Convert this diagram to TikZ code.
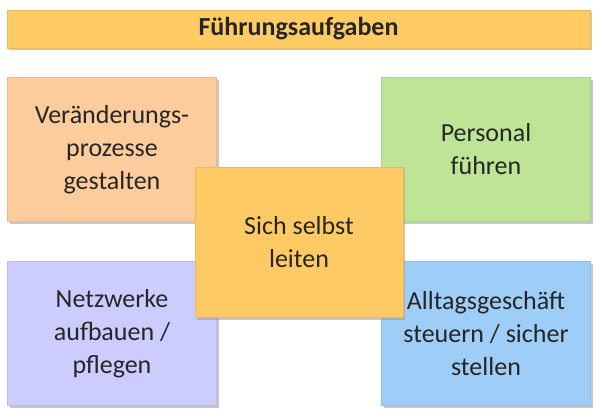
\documentclass[tikz,border=0pt]{standalone}
\usepackage{fontspec}
\setmainfont{Carlito}
\usepackage{xcolor}
\usetikzlibrary{shadows}

\definecolor{titlegold}{HTML}{FFCB64}
\definecolor{peach}{HTML}{FCCC9C}
\definecolor{leafgreen}{HTML}{BEE496}
\definecolor{selfgold}{HTML}{FFCA64}
\definecolor{lavender}{HTML}{CCCCFF}
\definecolor{skyblue}{HTML}{9ECDF8}

\begin{document}
\begin{tikzpicture}[
  x=1pt, y=-1pt,
  task/.style={rectangle, inner sep=0pt, minimum width=209pt, minimum height=144pt,
    align=center, font=\fontsize{26}{33}\selectfont, text=black!85,
    draw=#1!92!black, line width=0.6pt, fill=#1,
    drop shadow={shadow xshift=2pt, shadow yshift=-2.5pt, fill=black!40, opacity=0.55}},
  headbar/.style={task=titlegold, minimum width=583pt, minimum height=38pt,
    font=\fontsize{26}{33}\selectfont\bfseries}
]
\useasboundingbox (0,0) rectangle (600,417);
\node[headbar] (title) at (298.5,29) {Führungsaufgaben};
\node[task=peach]     (change)  at (112,149.5) {Veränderungs-\\prozesse\\gestalten};
\node[task=leafgreen] (staff)   at (486,149.5) {Personal\\führen};
\node[task=lavender]  (network) at (112,333.5) {Netzwerke\\aufbauen /\\pflegen};
\node[task=skyblue]   (daily)   at (486,333.5) {Alltagsgeschäft\\steuern / sicher\\stellen};
\node[task=selfgold, minimum width=208pt, minimum height=150pt] (self) at (299,242) {Sich selbst\\leiten};
\end{tikzpicture}
\end{document}
